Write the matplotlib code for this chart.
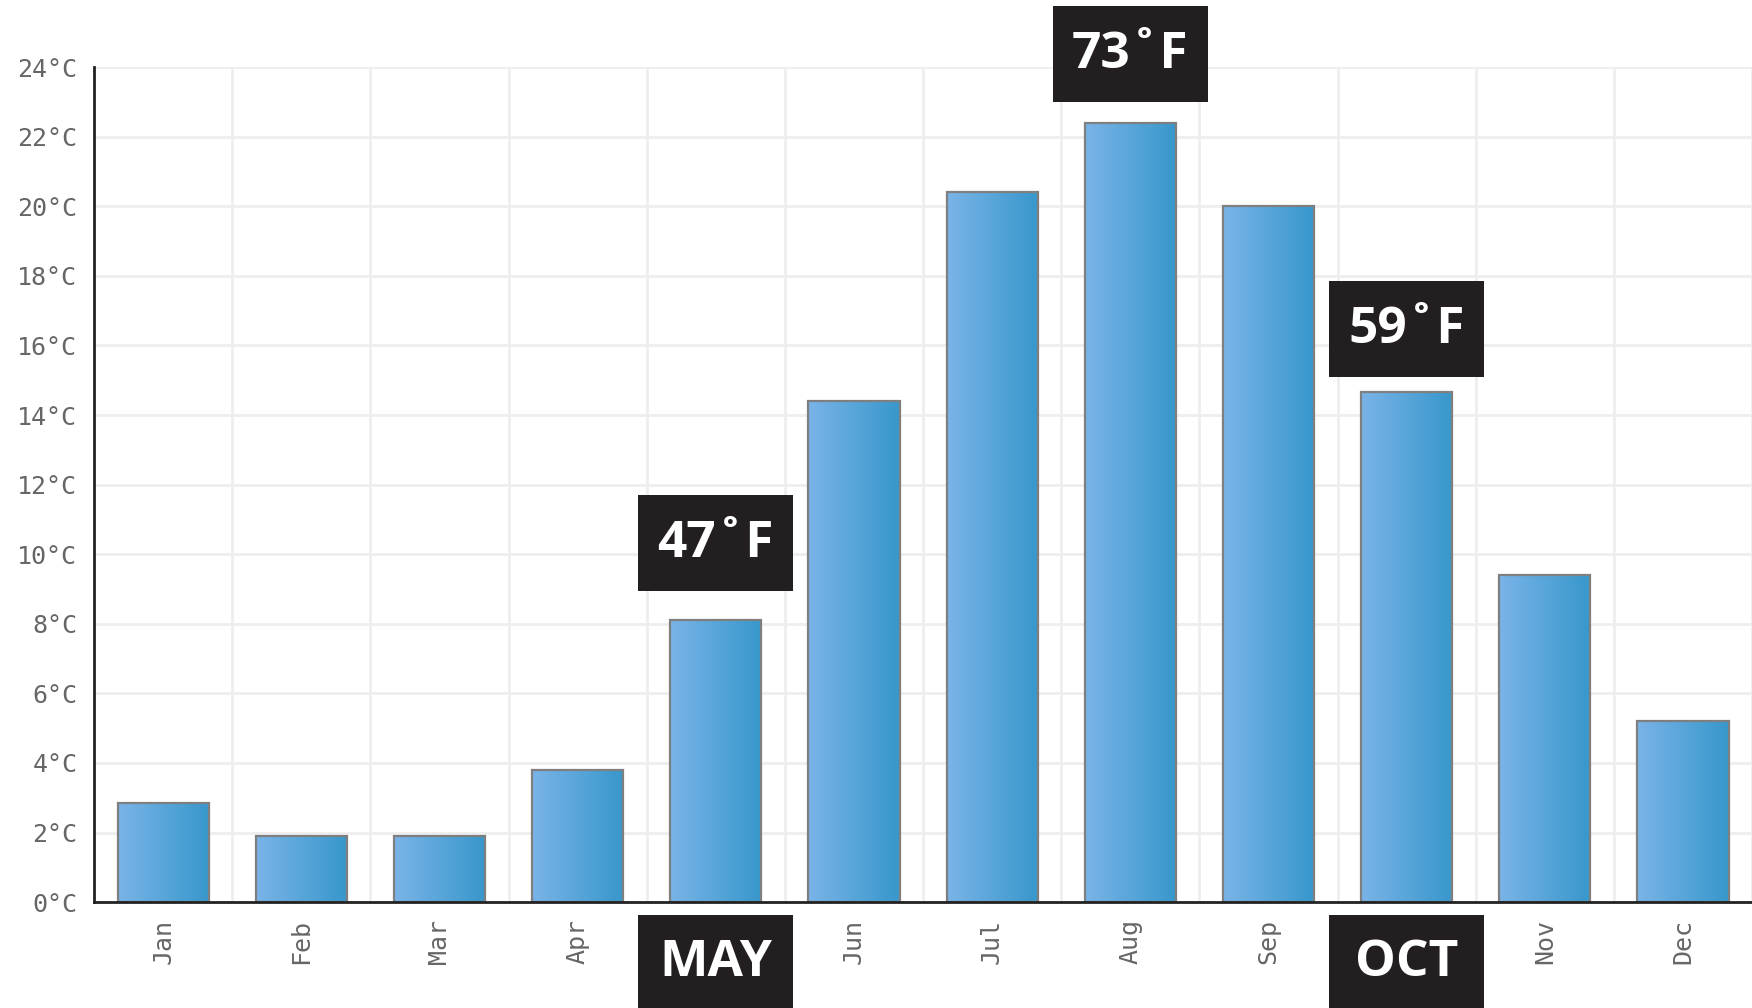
import numpy as np
import matplotlib
matplotlib.use("Agg")
import matplotlib.pyplot as plt
from matplotlib.colors import LinearSegmentedColormap

months = ["Jan", "Feb", "Mar", "Apr", "May", "Jun", "Jul", "Aug", "Sep", "Oct", "Nov", "Dec"]
temps_c = [2.85, 1.9, 1.9, 3.8, 8.1, 14.4, 20.4, 22.4, 20.0, 14.65, 9.4, 5.2]
yticks = [0, 2, 4, 6, 8, 10, 12, 14, 16, 18, 20, 22, 24]

# highlighted months: index, fahrenheit label
hi_idx = [4, 7, 9]
hi_f = ["47˚F", "73˚F", "59˚F"]
hi_month = {4: "MAY", 9: "OCT"}
box_gap = {4: 0.85, 7: 0.6, 9: 0.45}

fig = plt.figure(figsize=(17.52, 10.08), dpi=100)
ax = fig.add_axes([0.0537, 0.105, 0.9463, 0.8285])

x = np.arange(len(months))
bars = ax.bar(x, temps_c, width=0.66, facecolor="none", edgecolor="#7f7f7f",
              linewidth=1.6, zorder=4)

cmap = LinearSegmentedColormap.from_list("blu", ["#7ab4e8", "#3797cb"])
grad = np.linspace(0, 1, 256).reshape(1, -1)
for b in bars:
    x0, w, h = b.get_x(), b.get_width(), b.get_height()
    ax.imshow(grad, cmap=cmap, aspect="auto", extent=[x0, x0 + w, 0, h],
              zorder=3, interpolation="bicubic")

ax.set_xlim(-0.5, 11.5)
ax.set_ylim(0, 24)
ax.set_yticks(yticks)
ax.set_yticklabels([f"{v}°C" for v in yticks])
ax.set_xticks(x)
ax.set_xticklabels(months, rotation=90)
ax.set_xticks(np.arange(0.5, 12, 1), minor=True)

for lab in ax.get_xticklabels() + ax.get_yticklabels():
    lab.set_family("DejaVu Sans Mono")
    lab.set_color("#666666")
    lab.set_fontsize(18)
# month labels hidden under the black boxes
for i, lab in enumerate(ax.get_xticklabels()):
    if i in hi_month:
        lab.set_visible(False)
ax.tick_params(axis="both", which="both", length=0)
ax.tick_params(axis="y", pad=12)
ax.tick_params(axis="x", pad=12)

ax.grid(True, axis="y", color="#eeeeee", linewidth=2, zorder=0)
ax.grid(True, axis="x", which="minor", color="#eeeeee", linewidth=2, zorder=0)
ax.grid(False, axis="x", which="major")
ax.set_axisbelow(True)
for s in ["top", "right"]:
    ax.spines[s].set_visible(False)
for s in ["left", "bottom"]:
    ax.spines[s].set_color("#222222")
    ax.spines[s].set_linewidth(2)
    ax.spines[s].set_zorder(6)

box_font = ["Open Sans", "DejaVu Sans"]
bw = 1.12
for i, lab in zip(hi_idx, hi_f):
    y0 = temps_c[i] + box_gap[i]
    ax.add_patch(plt.Rectangle((i - bw / 2, y0), bw, 2.75, facecolor="#231f20",
                               edgecolor="none", zorder=7, clip_on=False))
    ax.text(i, y0 + 1.35, lab, color="white", fontsize=37, fontweight="bold",
            family=box_font, ha="center", va="center", zorder=8, clip_on=False)

trans = ax.get_xaxis_transform()
for i, m in hi_month.items():
    ax.add_patch(plt.Rectangle((i - bw / 2, -0.135), bw, 0.12, transform=trans,
                               facecolor="#231f20", edgecolor="none", zorder=7,
                               clip_on=False))
    ax.text(i, -0.073, m, transform=trans, color="white", fontsize=37,
            fontweight="bold", family=box_font, ha="center", va="center",
            zorder=8, clip_on=False)

fig.savefig("out.png", dpi=100, facecolor="white")
